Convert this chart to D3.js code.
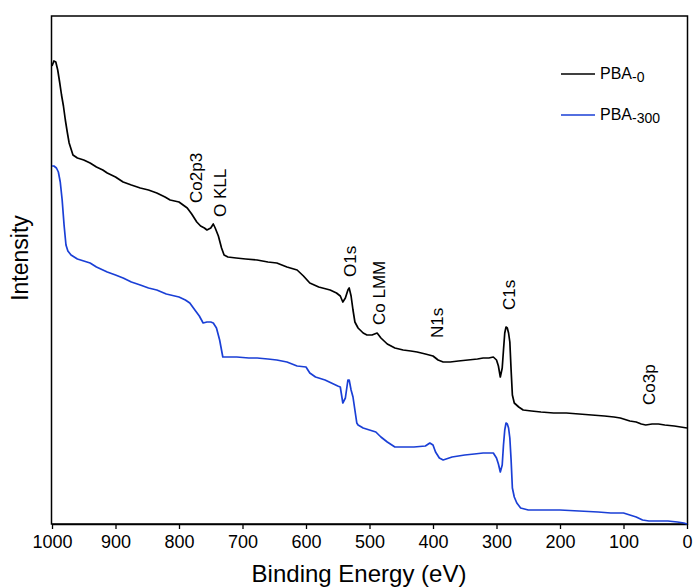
<!DOCTYPE html>
<html><head><meta charset="utf-8">
<script src="https://cdn.jsdelivr.net/npm/d3@7"></script>
<style>body{margin:0;background:#fff}svg{display:block}text{font-family:"Liberation Sans",Arial,sans-serif}</style>
</head><body><svg id="c" width="694" height="587"></svg>
<script>
const xTicks = [1000,900,800,700,600,500,400,300,200,100,0];
const seriesNames = ["PBA-0","PBA-300"];
const seriesColors = ["#000000","#1a3fd6"];
const energyBlack = [1000,997,994,991,988,985,982,979,976,973,970,967,960,950,940,930,920,913,900,888,875,861,848,835,822,814,800,787,780,772,766,760,756,750,746,743,738,733,729,723,710,695,677,660,646,630,614,604,594,580,562,552,546,542,538,534,532,529,526,523,518,510,504,496,488,482,472,460,447,435,425,412,400,392,384,373,360,345,330,321,312,305,300,297,294,291,289,287,285,283,281,279,277,275,272,265,258,245,230,210,190,170,150,130,115,105,90,80,72,65,55,45,35,20,10,0];
const intensityBlack = [458,463,462,454,442,429,418,404,392,381,375,369,366,364,361,357,354,351,347,342,339,336,334,331,327,324,322,316,310,302,298,296,294,296,300,296,288,276,269,267,266,265,264,262,261,257,254,248,241,237,234,231,228,222,226,234,236,228,214,202,196,191,189,189,191,186,180,176,174,173,172,170,168,164,162,162,163,164,165,166,166,167,164,158,147,156,174,191,197,196,191,182,154,129,121,117,114,113,112,111,111,110,109,108,107,106,103,102,100,99,100,100,99,98,97,96];
const energyBlue = [1000,997,993,990,987,984,981,978,975,970,960,950,940,930,913,900,888,875,861,848,835,820,800,790,783,775,768,762,756,750,746,741,736,731,725,709,690,677,660,646,630,614,600,594,585,570,560,550,546,542,538,534,532,529,526,520,518,510,500,490,482,472,460,447,430,412,405,400,396,390,384,370,350,335,321,305,300,297,294,291,289,287,285,283,281,279,277,275,272,268,262,250,230,200,170,140,120,100,90,80,70,60,45,30,15,5,0];
const intensityBlue = [358,358,356,352,342,324,299,279,273,269,265,263,261,257,252,249,246,242,239,236,234,230,227,224,221,214,208,201,202,202,201,196,184,167,167,167,166,166,165,164,162,158,157,151,147,144,141,138,137,121,126,144,144,134,127,101,99,96,94,92,87,82,77,77,77,78,81,79,72,66,64,67,69,70,71,71,66,60,52,59,79,94,101,100,96,86,64,36,27,21,16,14,14,14,13,12,11,11,9,7,4,3,3,3,2,1,0];
const peakLabels = ["Co2p3","O KLL","O1s","Co LMM","N1s","C1s","Co3p"];
const peakEnergies = [764,726,521,476,384,271,50];
const peakIntensities = [321,307,247,199,186,214,119];
const xLabel = "Binding Energy (eV)";
const yLabel = "Intensity";

const svg = d3.select("#c");
const L=52, R=687, T=16, B=524;
const x = d3.scaleLinear().domain([1000,0]).range([L,R]);
const y = d3.scaleLinear().domain([0,508]).range([B,T]);

svg.append("rect").attr("x",L-0.5).attr("y",T).attr("width",R-L+1).attr("height",B-T)
  .attr("fill","none").attr("stroke","#000").attr("stroke-width",1.5);

const xa = svg.append("g").attr("transform",`translate(0,${B})`)
  .call(d3.axisBottom(x).tickValues(xTicks).tickSize(5).tickSizeOuter(0).tickPadding(6).tickFormat(d3.format("d")));
xa.select(".domain").attr("stroke-width",1.5);
xa.selectAll(".tick line").attr("stroke-width",1.3);
xa.selectAll("text").attr("font-size",18).attr("font-family","Liberation Sans, Arial, sans-serif").attr("fill","#000");

const line = d3.line().x(d=>x(d[0])).y(d=>y(d[1]));
const data = [d3.zip(energyBlack,intensityBlack), d3.zip(energyBlue,intensityBlue)];
data.forEach((d,i)=>{
  svg.append("path").datum(d).attr("d",line).attr("fill","none")
    .attr("stroke",seriesColors[i]).attr("stroke-width",1.7).attr("stroke-linejoin","round");
});

peakLabels.forEach((t,i)=>{
  const px=x(peakEnergies[i]), py=y(peakIntensities[i]);
  svg.append("text").attr("transform",`translate(${px},${py}) rotate(-90)`)
    .attr("font-size",17).attr("fill","#000").text(t);
});

svg.append("text").attr("x",359).attr("y",582).attr("text-anchor","middle")
  .attr("font-size",24).attr("fill","#000").text(xLabel);
svg.append("text").attr("transform","translate(28,258) rotate(-90)").attr("text-anchor","middle")
  .attr("font-size",23).attr("fill","#000").text(yLabel);

const legY=[74,115];
seriesNames.forEach((n,i)=>{
  svg.append("line").attr("x1",561).attr("x2",595).attr("y1",legY[i]).attr("y2",legY[i])
    .attr("stroke",seriesColors[i]).attr("stroke-width",1.6);
  const parts = n.split("-");
  const t = svg.append("text").attr("x",600).attr("y",legY[i]+4.5).attr("font-size",16).attr("fill","#000");
  t.append("tspan").text(parts[0]);
  t.append("tspan").attr("font-size",14).attr("dy",3).text("-"+parts[1]);
});
</script></body></html>
